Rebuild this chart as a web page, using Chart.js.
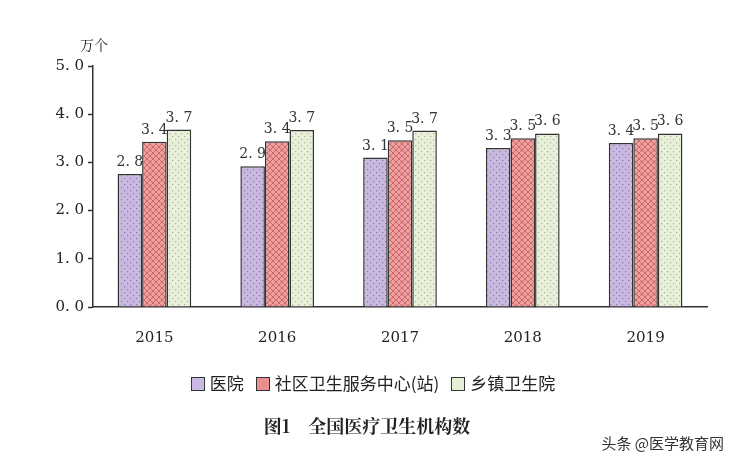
<!DOCTYPE html><html><head><meta charset="utf-8">
<script src="https://cdn.jsdelivr.net/npm/chart.js@4"></script>
<style>body{margin:0;background:#fff;width:734px;height:464px;position:relative;overflow:hidden;font-family:"Noto Serif CJK SC","Noto Sans CJK SC",serif}
#c{position:absolute;left:0;top:0}
.t{position:absolute;color:#222}
.lg{display:inline-block;width:12px;height:12px;border:1px solid #333;vertical-align:-1px;margin:0 5px 0 12px}
</style></head><body>
<canvas id="c" width="734" height="464"></canvas>
<div class="t" style="left:80px;top:34px;font-size:14px">万个</div>
<div class="t" style="left:0;width:734px;text-align:center;top:370px;font-size:17px;font-family:'Noto Sans CJK SC'">
<span class="lg" style="background:#c9b8e0"></span>医院<span class="lg" style="background:#e89090"></span>社区卫生服务中心(站)<span class="lg" style="background:#e6f0d8"></span>乡镇卫生院</div>
<div class="t" style="left:0;width:734px;text-align:center;top:412px;font-size:18px;font-weight:bold;font-family:'Noto Serif CJK SC','Noto Sans CJK SC'">图1　全国医疗卫生机构数</div>
<div class="t" style="right:10px;top:432px;font-size:15px;color:#333;font-family:'Noto Sans CJK SC'">头条 @医学教育网</div>
<script>
const categories=["2015","2016","2017","2018","2019"];
const hospitals=[2.76,2.92,3.10,3.30,3.40];
const community=[3.43,3.44,3.46,3.50,3.50];
const township=[3.68,3.67,3.66,3.60,3.60];
const yTicks=[0,1,2,3,4,5];
function pat(bg,fg,type){const p=document.createElement('canvas');p.width=p.height=6;const g=p.getContext('2d');g.fillStyle=bg;g.fillRect(0,0,6,6);g.fillStyle=fg;g.strokeStyle=fg;
if(type==='dot'){g.fillRect(1,1,1.2,1.2);g.fillRect(4,4,1.2,1.2);}else{g.lineWidth=0.8;g.beginPath();g.moveTo(0,0);g.lineTo(6,6);g.moveTo(6,0);g.lineTo(0,6);g.stroke();}
return g.createPattern(p,'repeat');}
const ctx=document.getElementById('c').getContext('2d');
const labels={id:'lbl',afterDatasetsDraw(ch){const g=ch.ctx;g.save();g.font='14px "DejaVu Serif", serif';g.fillStyle='#333';g.textAlign='center';
ch.data.datasets.forEach((d,i)=>{ch.getDatasetMeta(i).data.forEach((b,j)=>{g.fillText(d.data[j].toFixed(1).replace('.','. '),b.x,b.y-8);});});g.restore();}};
new Chart(ctx,{type:'bar',data:{labels:categories,datasets:[
{label:'医院',data:hospitals,backgroundColor:pat('#c9b8e0','#8a78a8','dot'),borderColor:'#333',borderWidth:1.5},
{label:'社区卫生服务中心(站)',data:community,backgroundColor:pat('#eea0a0','#c05858','x'),borderColor:'#333',borderWidth:1.5},
{label:'乡镇卫生院',data:township,backgroundColor:pat('#e8f0da','#a8b898','dot'),borderColor:'#333',borderWidth:1.5}]},
options:{responsive:false,animation:false,layout:{padding:{left:20,right:27,top:66,bottom:103}},
datasets:{bar:{categoryPercentage:0.6,barPercentage:1}},
plugins:{legend:{display:false},tooltip:{enabled:false}},
scales:{x:{grid:{display:false},border:{color:'#333',width:1.5},ticks:{color:'#222',padding:14,font:{size:15,family:'"DejaVu Serif",serif'}}},
y:{min:0,max:5,afterBuildTicks:a=>{a.ticks=yTicks.map(v=>({value:v}));},afterFit:a=>{a.width=73;},grid:{drawOnChartArea:false,tickLength:5,color:'#333',tickWidth:1.5},border:{color:'#333',width:1.5},
ticks:{color:'#222',padding:4,font:{size:15,family:'"DejaVu Serif",serif'},callback:v=>v.toFixed(1).replace('.','. ')}}}},plugins:[labels]});
</script></body></html>
